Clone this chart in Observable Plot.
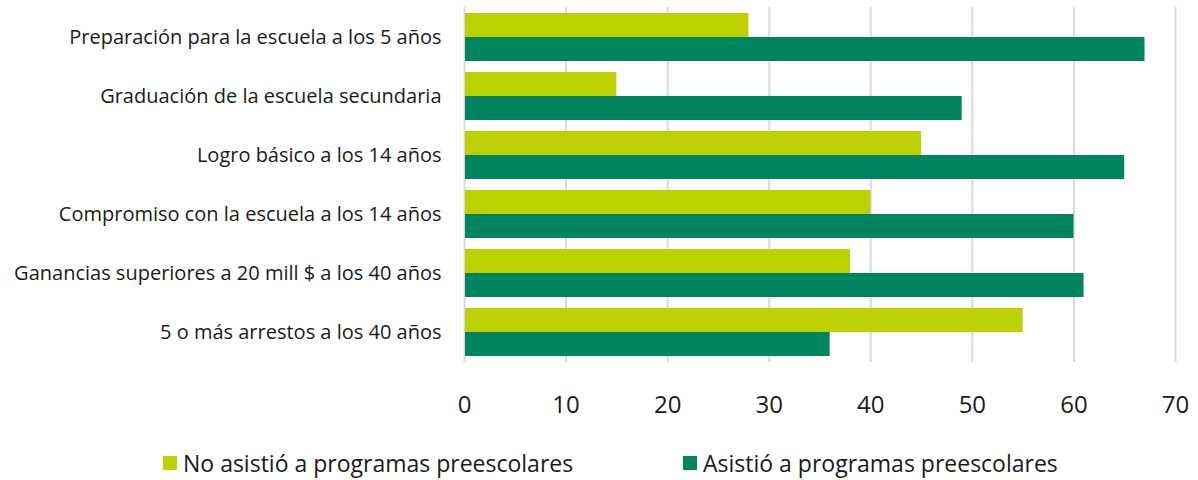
<!DOCTYPE html>
<html><head><meta charset="utf-8">
<script src="https://cdn.jsdelivr.net/npm/d3@7"></script>
<script src="https://cdn.jsdelivr.net/npm/@observablehq/plot@0.6"></script>
<style>
  body{margin:0;background:#fff;font-family:"Open Sans",sans-serif;color:#1a1a1a;}
  #wrap{position:relative;width:1198px;height:480px;}
  #legend{position:relative;width:1198px;height:50px;}
  .item{position:absolute;top:21px;display:flex;align-items:center;font-size:23px;line-height:24px;white-space:nowrap;}
  .sw{width:14px;height:14px;margin-right:6px;display:inline-block;}
</style></head>
<body><div id="wrap"><div id="chart"></div><div id="legend"></div></div>
<script>
const categories = [
  "Preparación para la escuela a los 5 años",
  "Graduación de la escuela secundaria",
  "Logro básico a los 14 años",
  "Compromiso con la escuela a los 14 años",
  "Ganancias superiores a 20 mill $ a los 40 años",
  "5 o más arrestos a los 40 años"
];
const noAsistio = [28, 15, 45, 40, 38, 55];
const asistio   = [67, 49, 65, 60, 61, 36];
const seriesNames = ["No asistió a programas preescolares", "Asistió a programas preescolares"];
const seriesColors = ["#bdd000", "#008561"];
const xTicks = [0, 10, 20, 30, 40, 50, 60, 70];

const data = categories.flatMap((c, i) => [
  {cat: c, series: seriesNames[0], value: noAsistio[i]},
  {cat: c, series: seriesNames[1], value: asistio[i]}
]);

const chart = Plot.plot({
  width: 1198, height: 430,
  marginLeft: 464, marginRight: 23, marginTop: 7, marginBottom: 68,
  style: {fontFamily: '"Open Sans", sans-serif', color: "#1a1a1a", background: "#fff"},
  x: {domain: [0, 70], axis: null},
  y: {domain: categories, paddingInner: 11/59, paddingOuter: 6/59, axis: null},
  color: {domain: seriesNames, range: seriesColors},
  marks: [
    Plot.gridX(xTicks, {stroke: "#d9d9d9", strokeOpacity: 1, strokeWidth: 2}),
    Plot.barX(data.filter(d => d.series === seriesNames[0]), {x: "value", y: "cat", fill: "series", insetBottom: 24, insetLeft: 1}),
    Plot.barX(data.filter(d => d.series === seriesNames[1]), {x: "value", y: "cat", fill: "series", insetTop: 24, insetLeft: 1}),
    Plot.axisX(xTicks, {tickSize: 0, tickPadding: 33, fontSize: 24, label: null}),
    Plot.axisY({tickSize: 0, tickPadding: 23, fontSize: 20, label: null})
  ]
});
document.getElementById("chart").appendChild(chart);

const legend = document.getElementById("legend");
const lefts = [163, 683];
seriesNames.forEach((name, i) => {
  const it = document.createElement("div");
  it.className = "item";
  it.style.left = lefts[i] + "px";
  const sw = document.createElement("span");
  sw.className = "sw";
  sw.style.background = seriesColors[i];
  const tx = document.createElement("span");
  tx.textContent = name;
  it.appendChild(sw); it.appendChild(tx);
  legend.appendChild(it);
});
</script></body></html>
